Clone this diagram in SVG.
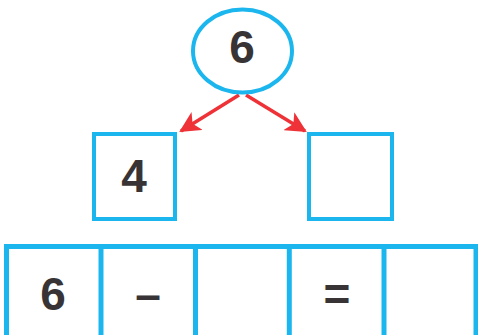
<svg xmlns="http://www.w3.org/2000/svg" width="478" height="335" viewBox="0 0 478 335">
<style>
.b{fill:#fff;stroke:#1cb6ee;stroke-width:4}
.t{font-family:"Liberation Sans",Arial,sans-serif;font-weight:bold;font-size:46px;fill:#383435;text-anchor:middle}
.c{stroke:#ee3237;stroke-width:3.5;fill:none}
</style>
<defs>
<marker id="ah" viewBox="0 0 10 10" refX="9" refY="5" markerWidth="6" markerHeight="6" orient="auto" markerUnits="strokeWidth">
<path d="M0,0 L10,5 L0,10 L2.5,5 Z" fill="#ee3237"/>
</marker>
</defs>
<rect width="478" height="335" fill="#fff"/>
<g id="connectors">
<line class="c" x1="239" y1="95" x2="181" y2="131" marker-end="url(#ah)"/>
<line class="c" x1="246" y1="95" x2="305" y2="131" marker-end="url(#ah)"/>
</g>
<g id="top">
<ellipse class="b" cx="242.5" cy="51" rx="49.5" ry="41.5"/>
<text class="t" x="242" y="63">6</text>
</g>
<g id="left">
<rect class="b" x="94" y="134" width="81" height="85"/>
<text class="t" x="134" y="192">4</text>
</g>
<g id="right">
<rect class="b" x="309" y="134" width="83" height="85"/>
</g>
<g id="row">
<rect x="6.5" y="246.5" width="469.5" height="100" fill="#fff" stroke="#1cb6ee" stroke-width="5"/>
<line x1="101" y1="246" x2="101" y2="335" stroke="#1cb6ee" stroke-width="5"/>
<line x1="195.5" y1="246" x2="195.5" y2="335" stroke="#1cb6ee" stroke-width="5"/>
<line x1="289.3" y1="246" x2="289.3" y2="335" stroke="#1cb6ee" stroke-width="5"/>
<line x1="384" y1="246" x2="384" y2="335" stroke="#1cb6ee" stroke-width="5"/>
</g>
<g id="cell1"><text class="t" x="53" y="310">6</text></g>
<g id="cell2"><text class="t" x="148" y="310">–</text></g>
<g id="cell4"><text class="t" x="337" y="310">=</text></g>
</svg>
